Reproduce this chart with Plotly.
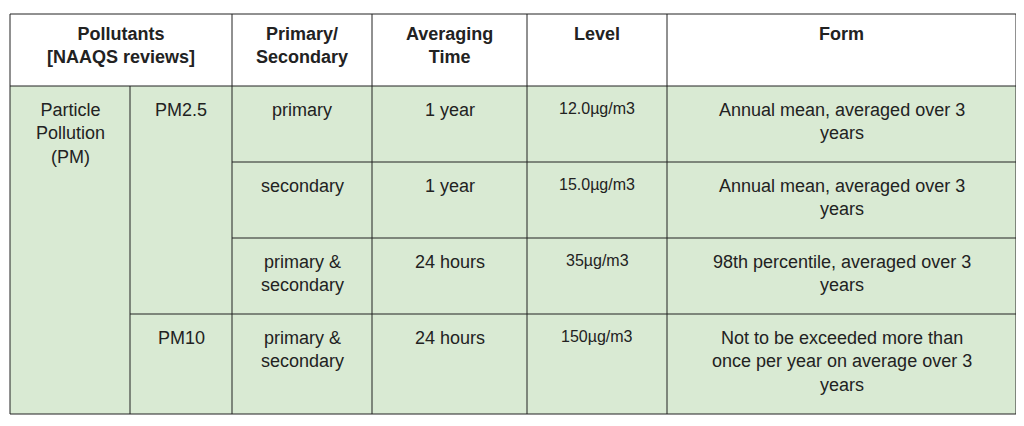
import plotly.graph_objects as go

headers = ["Pollutants<br>[NAAQS reviews]", "Primary/<br>Secondary", "Averaging<br>Time", "Level", "Form"]
pollutant = "Particle<br>Pollution<br>(PM)"
indicators = ["PM2.5", "PM10"]
indicator_rows = [3, 1]
prim_sec = ["primary", "secondary", "primary &<br>secondary", "primary &<br>secondary"]
avg_time = ["1 year", "1 year", "24 hours", "24 hours"]
levels = ["12.0µg/m3", "15.0µg/m3", "35µg/m3", "150µg/m3"]
forms = ["Annual mean, averaged over 3<br>years", "Annual mean, averaged over 3<br>years",
         "98th percentile, averaged over 3<br>years",
         "Not to be exceeded more than<br>once per year on average over 3<br>years"]

xb = [10, 130, 232, 372, 527, 667, 1016]
yb = [14, 86, 162, 238, 314, 414]
green = "#d9ead3"
font = dict(family="Liberation Sans, Arial", size=18, color="#222")
shapes, ann = [], []
L = dict(color="#222", width=1)

shapes.append(dict(type="rect", x0=xb[0], x1=xb[-1], y0=yb[1], y1=yb[-1], fillcolor=green, line=dict(width=0), layer="below"))
for y in [yb[0], yb[1], yb[-1]]:
    shapes.append(dict(type="line", x0=xb[0], x1=xb[-1], y0=y, y1=y, line=L))
for x in [xb[0], xb[2], xb[3], xb[4], xb[5], xb[6]]:
    shapes.append(dict(type="line", x0=x, x1=x, y0=yb[0], y1=yb[-1], line=L))
shapes.append(dict(type="line", x0=xb[1], x1=xb[1], y0=yb[1], y1=yb[-1], line=L))
for i in [2, 3]:
    shapes.append(dict(type="line", x0=xb[2], x1=xb[-1], y0=yb[i], y1=yb[i], line=L))
shapes.append(dict(type="line", x0=xb[1], x1=xb[-1], y0=yb[4], y1=yb[4], line=L))

def txt(t, x0, x1, y, size=18, bold=False):
    ann.append(dict(x=(x0 + x1) / 2, y=y, text=f"<b>{t}</b>" if bold else t, showarrow=False,
                    xanchor="center", yanchor="top", font=dict(font, size=size)))

hx = [(xb[0], xb[2]), (xb[2], xb[3]), (xb[3], xb[4]), (xb[4], xb[5]), (xb[5], xb[6])]
for h, (a, b) in zip(headers, hx):
    txt(h, a, b, yb[0] + 8, bold=True)
txt(pollutant, xb[0], xb[1], yb[1] + 12)
r = 0
for ind, n in zip(indicators, indicator_rows):
    txt(ind, xb[1], xb[2], yb[1 + r] + 12)
    r += n
for i in range(4):
    y = yb[1 + i] + 12
    txt(prim_sec[i], xb[2], xb[3], y)
    txt(avg_time[i], xb[3], xb[4], y)
    txt(levels[i], xb[4], xb[5], y, size=16)
    txt(forms[i], xb[5], xb[6], y)

fig = go.Figure()
fig.update_layout(width=1024, height=426, margin=dict(l=0, r=0, t=0, b=0),
                  paper_bgcolor="white", plot_bgcolor="white", shapes=shapes, annotations=ann,
                  xaxis=dict(range=[8, 1032], visible=False, fixedrange=True),
                  yaxis=dict(range=[434, 8], visible=False, fixedrange=True), showlegend=False)
fig.write_html("out.html")
